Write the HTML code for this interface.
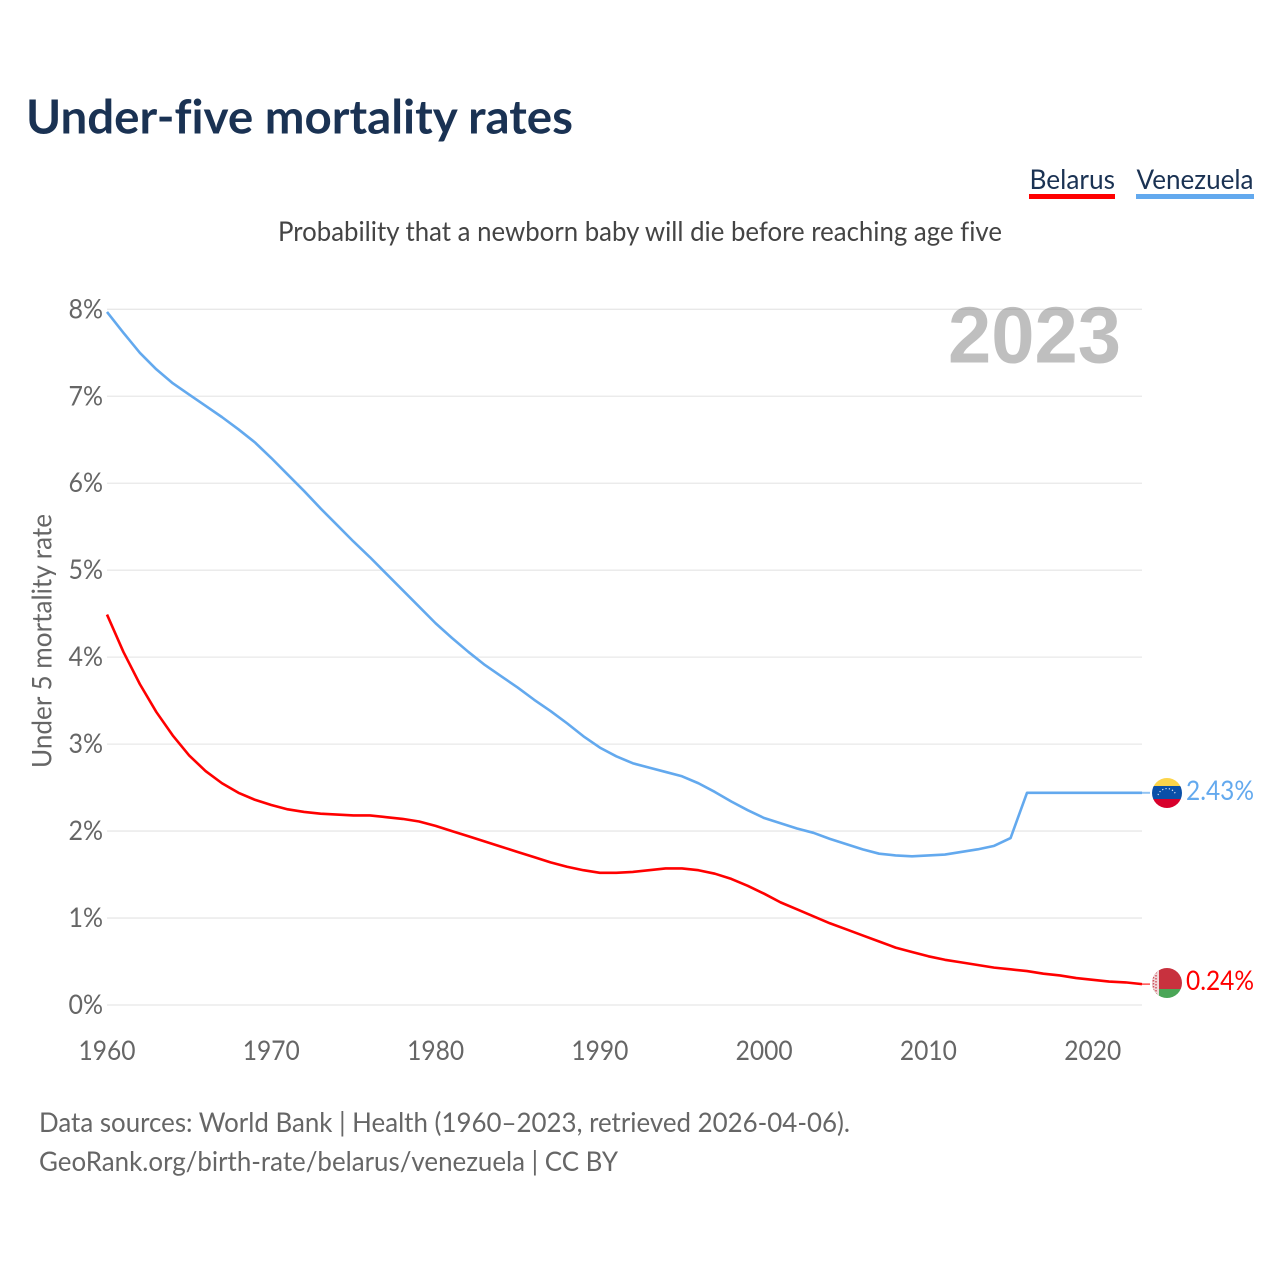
<!DOCTYPE html>
<html lang="en">
<head>
<meta charset="utf-8">
<title>Under-five mortality rates</title>
<style>
  html, body { margin: 0; padding: 0; background: #fff; }
  svg { display: block; }
  text { font-family: "Lato", "Carlito", "Liberation Sans", sans-serif; font-variant-ligatures: none; }
</style>
</head>
<body>
<svg id="chart" xmlns="http://www.w3.org/2000/svg" width="1280" height="1280" viewBox="0 0 1280 1280">
  <defs>
    <clipPath id="flag-clip-ve"><circle cx="1167" cy="793" r="15"/></clipPath>
    <clipPath id="flag-clip-by"><circle cx="1167" cy="983" r="15"/></clipPath>
  </defs>
  <rect width="1280" height="1280" fill="#ffffff"/>
  <text x="26" y="133.5" font-size="47" font-weight="700" fill="#1a3253" textLength="547" lengthAdjust="spacingAndGlyphs">Under-five mortality rates</text>

  <g>
    <text x="1029.5" y="189" font-size="27" fill="#1a3253" textLength="85.5" lengthAdjust="spacingAndGlyphs">Belarus</text>
    <rect x="1029" y="194" width="86" height="5" fill="#ff0000"/>
  </g>
  <g>
    <text x="1136.5" y="189" font-size="27" fill="#1a3253" textLength="117" lengthAdjust="spacingAndGlyphs">Venezuela</text>
    <rect x="1136" y="194" width="118" height="5" fill="#63a9ee"/>
  </g>

  <text x="278" y="241" font-size="27" fill="#444444" textLength="724" lengthAdjust="spacingAndGlyphs">Probability that a newborn baby will die before reaching age five</text>

  <text transform="translate(51.5 641) rotate(-90)" text-anchor="middle" font-size="27" fill="#666666" textLength="254" lengthAdjust="spacingAndGlyphs">Under 5 mortality rate</text>

  <g id="y-axis"></g>
  <g id="x-axis"></g>

  <text x="948" y="362.5" font-size="80" font-weight="700" fill="#808080" opacity="0.5" textLength="173" lengthAdjust="spacingAndGlyphs" style="font-family:'Liberation Sans',sans-serif">2023</text>

  <g id="series"></g>

  <g clip-path="url(#flag-clip-ve)">
    <rect x="1152" y="778" width="30" height="10" fill="#fcd44a"/>
    <rect x="1152" y="786" width="30" height="14" fill="#0a4fa8"/>
    <rect x="1152" y="799" width="30" height="10" fill="#d8002c"/>
    <path d="M1158 795 A9.5 9.5 0 0 1 1176 795" fill="none" stroke="#dfe9f7" stroke-width="1.2" stroke-dasharray="1.2 2.2"/>
  </g>
  <g clip-path="url(#flag-clip-by)">
    <rect x="1152" y="968" width="30" height="21" fill="#c8313e"/>
    <rect x="1152" y="989" width="30" height="10" fill="#4aa657"/>
    <rect x="1152" y="968" width="7" height="31" fill="#f0d8da"/>
    <path d="M1153.5 968V999" stroke="#c8313e" stroke-width="1.5" stroke-dasharray="1.5 1.5" opacity=".8" fill="none"/>
    <path d="M1156 969V999" stroke="#c8313e" stroke-width="1.5" stroke-dasharray="1.5 1.5" opacity=".8" fill="none"/>
  </g>

  <text x="1186" y="800" font-size="27" fill="#63a9ee" textLength="68" lengthAdjust="spacingAndGlyphs">2.43%</text>
  <text x="1186" y="990" font-size="27" fill="#ff0000" textLength="68" lengthAdjust="spacingAndGlyphs">0.24%</text>

  <text x="39" y="1132" font-size="27" fill="#666666" textLength="811" lengthAdjust="spacingAndGlyphs">Data sources: World Bank | Health (1960–2023, retrieved 2026-04-06).</text>
  <text x="39" y="1171" font-size="27" fill="#666666" textLength="579" lengthAdjust="spacingAndGlyphs">GeoRank.org/birth-rate/belarus/venezuela | CC BY</text>
</svg>

<script>
const startYear = 1960;
const endYear = 2023;
const xTickYears = [1960, 1970, 1980, 1990, 2000, 2010, 2020];
const yTickValues = [0, 1, 2, 3, 4, 5, 6, 7, 8];
const venezuelaValues = [
  7.97, 7.73, 7.50, 7.31, 7.15, 7.02, 6.89, 6.76, 6.62, 6.47,
  6.29, 6.10, 5.91, 5.71, 5.52, 5.33, 5.15, 4.96, 4.77, 4.58,
  4.39, 4.22, 4.06, 3.91, 3.78, 3.65, 3.51, 3.38, 3.24, 3.09,
  2.96, 2.86, 2.78, 2.73, 2.68, 2.63, 2.55, 2.45, 2.34, 2.24,
  2.15, 2.09, 2.03, 1.98, 1.91, 1.85, 1.79, 1.74, 1.72, 1.71,
  1.72, 1.73, 1.76, 1.79, 1.83, 1.92, 2.44, 2.44, 2.44, 2.44,
  2.44, 2.44, 2.44, 2.44
];
const belarusValues = [
  4.49, 4.06, 3.69, 3.37, 3.10, 2.87, 2.69, 2.55, 2.44, 2.36,
  2.30, 2.25, 2.22, 2.20, 2.19, 2.18, 2.18, 2.16, 2.14, 2.11,
  2.06, 2.00, 1.94, 1.88, 1.82, 1.76, 1.70, 1.64, 1.59, 1.55,
  1.52, 1.52, 1.53, 1.55, 1.57, 1.57, 1.55, 1.51, 1.45, 1.37,
  1.28, 1.18, 1.10, 1.02, 0.94, 0.87, 0.80, 0.73, 0.66, 0.61,
  0.56, 0.52, 0.49, 0.46, 0.43, 0.41, 0.39, 0.36, 0.34, 0.31,
  0.29, 0.27, 0.26, 0.24
];

const SVG_NS = 'http://www.w3.org/2000/svg';
const plotLeft = 107;
const plotRight = 1142;
const plotBottom = 1005;
const plotTop = 309.3;
const yMax = 8;

function xScale(year) {
  return plotLeft + (year - startYear) / (endYear - startYear) * (plotRight - plotLeft);
}
function yScale(value) {
  return plotBottom - value / yMax * (plotBottom - plotTop);
}

const yAxis = document.getElementById('y-axis');
yTickValues.forEach(function (v) {
  const line = document.createElementNS(SVG_NS, 'line');
  
  
  line.setAttribute('x1', plotLeft);
  line.setAttribute('x2', plotRight);
  line.setAttribute('y1', yScale(v));
  line.setAttribute('y2', yScale(v));
  line.setAttribute('stroke', '#e8e8e8');
  line.setAttribute('stroke-width', '1.3');
  yAxis.appendChild(line);

  const label = document.createElementNS(SVG_NS, 'text');
  
  
  label.setAttribute('x', 68.5);
  label.setAttribute('y', yScale(v) + 9);
  label.setAttribute('font-size', '27');
  label.setAttribute('fill', '#666666');
  label.setAttribute('textLength', '34.5');
  label.setAttribute('lengthAdjust', 'spacingAndGlyphs');
  label.textContent = v + '%';
  yAxis.appendChild(label);
});

const xAxis = document.getElementById('x-axis');
xTickYears.forEach(function (year) {
  const label = document.createElementNS(SVG_NS, 'text');
  
  
  label.setAttribute('x', xScale(year) - 28.5);
  label.setAttribute('y', 1060);
  label.setAttribute('font-size', '27');
  label.setAttribute('fill', '#666666');
  label.setAttribute('textLength', '57');
  label.setAttribute('lengthAdjust', 'spacingAndGlyphs');
  label.textContent = year;
  xAxis.appendChild(label);
});

function pathFor(values) {
  return values.map(function (v, i) {
    return (i === 0 ? 'M' : 'L') + xScale(startYear + i).toFixed(2) + ' ' + yScale(v).toFixed(2);
  }).join(' ');
}

const seriesGroup = document.getElementById('series');

const venezuelaLine = document.createElementNS(SVG_NS, 'path');


venezuelaLine.setAttribute('d', pathFor(venezuelaValues));
venezuelaLine.setAttribute('fill', 'none');
venezuelaLine.setAttribute('stroke', '#63a9ee');
venezuelaLine.setAttribute('stroke-width', '2.6');
venezuelaLine.setAttribute('stroke-linejoin', 'round');
seriesGroup.appendChild(venezuelaLine);

const belarusLine = document.createElementNS(SVG_NS, 'path');


belarusLine.setAttribute('d', pathFor(belarusValues));
belarusLine.setAttribute('fill', 'none');
belarusLine.setAttribute('stroke', '#ff0000');
belarusLine.setAttribute('stroke-width', '2.6');
belarusLine.setAttribute('stroke-linejoin', 'round');
seriesGroup.appendChild(belarusLine);

const venezuelaLeader = document.createElementNS(SVG_NS, 'line');


venezuelaLeader.setAttribute('x1', plotRight);
venezuelaLeader.setAttribute('x2', 1150);
venezuelaLeader.setAttribute('y1', yScale(venezuelaValues[venezuelaValues.length - 1]));
venezuelaLeader.setAttribute('y2', yScale(venezuelaValues[venezuelaValues.length - 1]));
venezuelaLeader.setAttribute('stroke', '#63a9ee');
venezuelaLeader.setAttribute('stroke-width', '2');
venezuelaLeader.setAttribute('stroke-opacity', '0.7');
seriesGroup.appendChild(venezuelaLeader);

const belarusLeader = document.createElementNS(SVG_NS, 'line');


belarusLeader.setAttribute('x1', plotRight);
belarusLeader.setAttribute('x2', 1150);
belarusLeader.setAttribute('y1', yScale(belarusValues[belarusValues.length - 1]));
belarusLeader.setAttribute('y2', yScale(belarusValues[belarusValues.length - 1]));
belarusLeader.setAttribute('stroke', '#ff0000');
belarusLeader.setAttribute('stroke-width', '1.5');
belarusLeader.setAttribute('stroke-opacity', '0.7');
seriesGroup.appendChild(belarusLeader);
</script>
</body>
</html>
